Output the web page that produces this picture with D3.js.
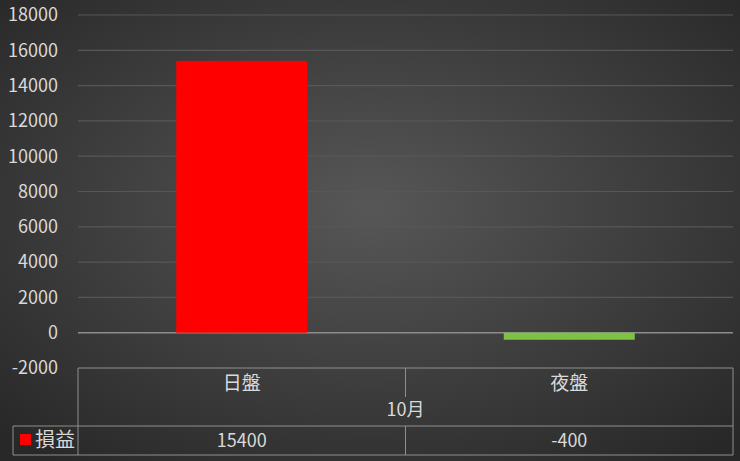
<!DOCTYPE html>
<html lang="zh-Hant">
<head>
  <meta charset="UTF-8" />
  <title>損益</title>
  <script src="https://d3js.org/d3.v7.min.js"></script>
  <style>
    body {margin: 0; background: #333;}
    svg {display: block;}
    text {font-family: "Noto Sans CJK TC", "Noto Sans", sans-serif; fill: #d9d9d9;}
  </style>
</head>
<body>
<script>
  // data
  const categories = ["日盤", "夜盤"];
  const values = [15400, -400];
  const groupLabel = "10月";
  const seriesName = "損益";
  const barColors = ["#ff0000", "#7dc242"];
  const yTicks = [-2000, 0, 2000, 4000, 6000, 8000, 10000, 12000, 14000, 16000, 18000];

  const width = 740;
  const height = 461;
  const plotLeft = 78, plotRight = 733;
  const tableTop = 368, rowLine = 426, tableBottom = 455;

  const svg = d3.select("body").append("svg")
                .attr("width", width)
                .attr("height", height);

  //****BACKGROUND****
  const grad = svg.append("defs").append("radialGradient")
                  .attr("id", "bg")
                  .attr("cx", "50%").attr("cy", "45%").attr("r", "70%");
  grad.append("stop").attr("offset", "0%").attr("stop-color", "#575757");
  grad.append("stop").attr("offset", "100%").attr("stop-color", "#282828");
  svg.append("rect").attr("width", width).attr("height", height).attr("fill", "url(#bg)");

  //****SCALES****
  const xScale = d3.scaleBand()
                   .domain(categories)
                   .range([plotLeft, plotRight])
                   .paddingInner(0.6)
                   .paddingOuter(0.3);
  const colScale = d3.scaleBand().domain(categories).range([plotLeft, plotRight]);

  const yScale = d3.scaleLinear()
                   .domain([-2000, 18000])
                   .range([tableTop, 15]);

  //****GRIDLINES + Y LABELS****
  svg.append("g").selectAll("line")
     .data(yTicks.filter(d => d > -2000))
     .join("line")
     .attr("x1", plotLeft).attr("x2", plotRight)
     .attr("y1", d => yScale(d)).attr("y2", d => yScale(d))
     .attr("stroke", d => d === 0 ? "#8c8c8c" : "#575757")
     .attr("stroke-width", d => d === 0 ? 1.5 : 1.2);

  svg.append("g").selectAll("text")
     .data(yTicks)
     .join("text")
     .attr("x", 58)
     .attr("y", d => yScale(d))
     .attr("dy", "0.35em")
     .attr("text-anchor", "end")
     .attr("font-size", 18)
     .text(d => d);

  //****BARS****
  svg.append("g").selectAll("rect")
     .data(categories)
     .join("rect")
     .attr("x", d => xScale(d))
     .attr("width", xScale.bandwidth())
     .attr("y", (d, i) => yScale(Math.max(0, values[i])))
     .attr("height", (d, i) => Math.abs(yScale(values[i]) - yScale(0)))
     .attr("fill", (d, i) => barColors[i]);

  //****DATA TABLE****
  const table = svg.append("g").attr("stroke", "#8f8f8f").attr("stroke-width", 1);
  table.append("line").attr("x1", plotLeft).attr("x2", plotRight).attr("y1", tableTop).attr("y2", tableTop);
  table.append("line").attr("x1", 13).attr("x2", plotRight).attr("y1", rowLine).attr("y2", rowLine);
  table.append("line").attr("x1", 13).attr("x2", plotRight).attr("y1", tableBottom).attr("y2", tableBottom);
  table.append("line").attr("x1", plotLeft).attr("x2", plotLeft).attr("y1", tableTop).attr("y2", tableBottom);
  table.append("line").attr("x1", plotRight).attr("x2", plotRight).attr("y1", tableTop).attr("y2", tableBottom);
  table.append("line").attr("x1", 13).attr("x2", 13).attr("y1", rowLine).attr("y2", tableBottom);
  const mid = colScale(categories[1]);
  table.append("line").attr("x1", mid).attr("x2", mid).attr("y1", tableTop).attr("y2", 397);
  table.append("line").attr("x1", mid).attr("x2", mid).attr("y1", rowLine).attr("y2", tableBottom);

  svg.append("g").selectAll("text")
     .data(categories)
     .join("text")
     .attr("x", d => colScale(d) + colScale.bandwidth() / 2)
     .attr("y", 383)
     .attr("dy", "0.35em")
     .attr("text-anchor", "middle")
     .attr("font-size", 19)
     .text(d => d);

  svg.append("text")
     .attr("x", mid)
     .attr("y", 410)
     .attr("dy", "0.35em")
     .attr("text-anchor", "middle")
     .attr("font-size", 18)
     .text(groupLabel);

  svg.append("g").selectAll("text")
     .data(values)
     .join("text")
     .attr("x", (d, i) => colScale(categories[i]) + colScale.bandwidth() / 2)
     .attr("y", 441)
     .attr("dy", "0.35em")
     .attr("text-anchor", "middle")
     .attr("font-size", 18)
     .text(d => d);

  // legend key
  svg.append("rect")
     .attr("x", 20).attr("y", 434)
     .attr("width", 11).attr("height", 11)
     .attr("fill", barColors[0]);
  svg.append("text")
     .attr("x", 35).attr("y", 440)
     .attr("dy", "0.35em")
     .attr("font-size", 20)
     .text(seriesName);
</script>
</body>
</html>
